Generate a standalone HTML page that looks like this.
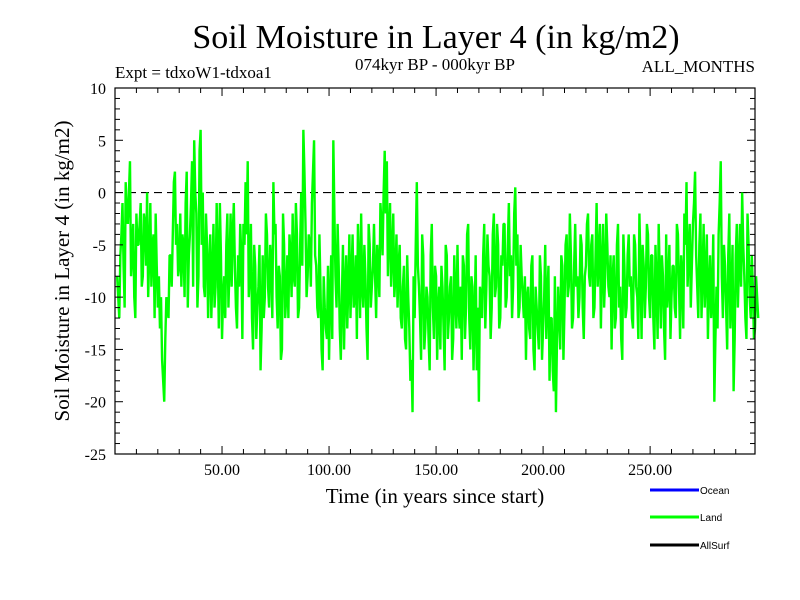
<!DOCTYPE html>
<html><head><meta charset="utf-8">
<style>
body{margin:0;background:#fff}
svg{display:block}
text{font-family:"Liberation Serif",serif;fill:#000}
</style></head>
<body>
<svg id="chart" width="800" height="600" viewBox="0 0 800 600">
<rect width="800" height="600" fill="#fff"/>
<text x="436" y="48" font-size="34" text-anchor="middle">Soil Moisture in Layer 4 (in kg/m2)</text>
<text x="115" y="78" font-size="17">Expt = tdxoW1-tdxoa1</text>
<text x="435" y="70" font-size="17" text-anchor="middle">074kyr BP - 000kyr BP</text>
<text x="755" y="72" font-size="17" text-anchor="end">ALL_MONTHS</text>
<text transform="translate(69,271) rotate(-90)" font-size="21" text-anchor="middle">Soil Moisture in Layer 4 (in kg/m2)</text>
<text x="435" y="503" font-size="21" text-anchor="middle">Time (in years since start)</text>
<g id="plot"></g>
<g id="axes"></g>
<g>
<line x1="650" y1="490" x2="699" y2="490" stroke="#0000ff" stroke-width="3"/>
<text x="700" y="494" font-size="10" style="font-family:'Liberation Sans',sans-serif">Ocean</text>
<line x1="650" y1="517" x2="699" y2="517" stroke="#00ff00" stroke-width="3"/>
<text x="700" y="521" font-size="10" style="font-family:'Liberation Sans',sans-serif">Land</text>
<line x1="650" y1="545" x2="699" y2="545" stroke="#000" stroke-width="3"/>
<text x="700" y="549" font-size="10" style="font-family:'Liberation Sans',sans-serif">AllSurf</text>
</g>
</svg>
<script>
const landValues = [
-8,-12,-4,-7,1,-3,3,-6,-10,-2,
-5,-1,-8,-3,0,-6,-9,-4,-2,-11,
-13,-16,-20,-10,-12,-6,-4,2,-3,-7,
-9,-5,-1,-11,-4,3,5,-2,-8,6,
0,-10,-5,-7,-12,-3,-9,-6,-1,-14,
-8,-5,-11,-2,-4,-7,-13,-9,-6,-3,
1,3,-8,-12,-5,-14,-9,-17,-6,-10,
-4,-11,-7,1,-3,-13,-8,-15,-5,-10,
-12,-6,-2,-9,-4,-11,0,6,-3,-8,
-5,-1,5,-7,-12,-9,-17,-11,-14,-16,
-6,5,-8,-3,-13,-10,-15,-6,-9,-12,
-4,-10,-14,-7,-2,-11,-8,-16,-5,-9,
-3,-12,-7,-1,-6,4,3,-4,-9,-2,
-8,-11,-5,-13,-7,-15,-10,-18,-21,-12,
1,-9,-16,-6,-13,-10,-17,-3,-14,-8,
-11,-15,-9,-17,-6,-12,-8,-14,-10,-5,
-13,-16,-7,-11,-3,-15,-9,-12,-17,-20,
-10,-6,-13,-4,-8,-11,-2,-9,-5,-12,
-7,-3,-10,-1,-6,-9,0.5,-4,-11,-8,
-12,-16,-9,-14,-6,-17,-11,-15,-8,-13,
-5,-10,-18,-12,-19,-21,-9,-15,-7,-11,
-4,-9,-6,-12,-3,-8,-10,-5,-14,-7,
-2,-9,-4,-11,-1,-6,-13,-3,-8,-5,
-10,-15,-6,-12,-3,-9,-16,-7,-11,-4,
-8,-13,-5,-10,-2,-14,-7,-9,-4,-12,
-6,-15,-9,-3,-13,-8,-16,-11,-5,-10,
-7,-12,-4,-14,-8,-2,1,-6,-11,-3,
2,-9,-5,-12,-3,-8,-14,-6,-10,-20,
-9,-4,3,-12,-7,-15,-2,-10,-19,-6,
-11,-3,0,-8,-14,-5,-12,-9,-13,-10
];
const landValuesMidYear = [
-10,-6,-1,-11,-2,0,-8,-3,-12,-5,
-3,-9,-2,-7,-10,-1,-5,-12,-7,-8,
-10,-18,-14,-11,-6,-9,1,-5,-8,-2,
-4,-10,2,-6,-1,-9,0,-11,4,-5,
-9,-2,-12,-4,-8,-11,-1,-13,-6,-10,
-12,-2,-7,-9,-1,-11,-6,-3,-14,-5,
-4,-10,-3,-15,-7,-11,-5,-13,-12,-2,
-9,-5,-12,-4,-10,-7,-16,-2,-12,-6,
-4,-10,-8,-1,-12,-5,-7,2,-10,-4,
-9,2,-6,-11,-4,-15,-8,-13,-7,-10,
-14,-2,-11,-7,-16,-5,-9,-13,-4,-8,
-11,-6,-3,-12,-9,-5,-13,-3,-11,-7,
-8,-5,-10,-3,0,-2,-8,-1,-6,-10,
-4,-7,-12,-9,-14,-6,-13,-16,-8,-5,
-7,-12,-4,-15,-9,-14,-6,-11,-7,-16,
-9,-7,-13,-5,-14,-9,-16,-6,-13,-11,
-9,-6,-14,-4,-12,-8,-17,-6,-11,-9,
-12,-3,-9,-7,-14,-4,-10,-3,-13,-6,
-3,-11,-5,-8,-12,-2,-7,-12,-5,-10,
-8,-10,-13,-7,-15,-9,-13,-6,-16,-10,
-14,-7,-12,-17,-8,-14,-12,-6,-16,-5,
-10,-2,-13,-7,-9,-12,-4,-11,-8,-3,
-8,-5,-12,-6,-9,-3,-7,-11,-2,-9,
-6,-8,-13,-5,-11,-14,-4,-12,-6,-9,
-12,-4,-9,-14,-7,-5,-12,-3,-10,-6,
-12,-5,-14,-8,-6,-13,-4,-9,-14,-7,
-11,-3,-9,-6,-13,-5,-9,-3,-7,-1,
-6,-12,-2,-8,-11,-4,-9,-12,-4,-14,
-13,-1,-8,-5,-11,-6,-13,-5,-14,-3,
-7,-9,-5,-12,-2,-10,-6,-14,-8,-12
];
const yearStart = 1;
const xTickValues = [50,100,150,200,250];
const xTickLabels = ["50.00","100.00","150.00","200.00","250.00"];
const yTickValues = [10,5,0,-5,-10,-15,-20,-25];
const yTickLabels = ["10","5","0","-5","-10","-15","-20","-25"];

const L=115,R=755,T=88,B=454,XMIN=0,XMAX=299,YMIN=-25,YMAX=10;
const NS="http://www.w3.org/2000/svg";
function xs(t){return L+(t-XMIN)/(XMAX-XMIN)*(R-L);}
function ys(v){return B-(v-YMIN)/(YMAX-YMIN)*(B-T);}
function mk(tag,attrs,parent){const e=document.createElementNS(NS,tag);for(const k in attrs)e.setAttribute(k,attrs[k]);parent.appendChild(e);return e;}
const plot=document.getElementById('plot'),axes=document.getElementById('axes');

const zero=mk('line',{x1:L,x2:R,y1:ys(0),y2:ys(0),stroke:'#000','stroke-width':1.2,'stroke-dasharray':'8,5'},plot);



const pts=[];
landValues.forEach((v,i)=>{
  pts.push([yearStart+i,v]);
  if(i<landValuesMidYear.length) pts.push([yearStart+i+0.5,landValuesMidYear[i]]);
});
let d='';
pts.forEach((p,i)=>{d+=(i?'L':'M')+xs(p[0]).toFixed(2)+','+ys(p[1]).toFixed(2);});
const line=mk('path',{d:d,fill:'none',stroke:'#00ff00','stroke-width':2.4,'stroke-linejoin':'bevel'},plot);



const frame=mk('rect',{x:L,y:T,width:R-L,height:B-T,fill:'none',stroke:'#000','stroke-width':1.2},axes);



for(let t=10;t<XMAX;t+=10){
  const major=t%50===0,len=major?8:5;
  mk('line',{x1:xs(t),x2:xs(t),y1:B,y2:B-len,stroke:'#000','stroke-width':1},axes);
  mk('line',{x1:xs(t),x2:xs(t),y1:T,y2:T+len,stroke:'#000','stroke-width':1},axes);
}
for(let v=YMIN+1;v<YMAX;v+=1){
  const major=v%5===0,len=major?8:5;
  mk('line',{x1:L,x2:L+len,y1:ys(v),y2:ys(v),stroke:'#000','stroke-width':1},axes);
  mk('line',{x1:R,x2:R-len,y1:ys(v),y2:ys(v),stroke:'#000','stroke-width':1},axes);
}
xTickValues.forEach((t,i)=>{
  const tx=mk('text',{x:xs(t),y:475,'font-size':16,'text-anchor':'middle'},axes);
  tx.textContent=xTickLabels[i];
  
  
});
yTickValues.forEach((v,i)=>{
  const tx=mk('text',{x:106,y:ys(v)+6,'font-size':16,'text-anchor':'end'},axes);
  tx.textContent=yTickLabels[i];
  
  
});
</script>
</body></html>
